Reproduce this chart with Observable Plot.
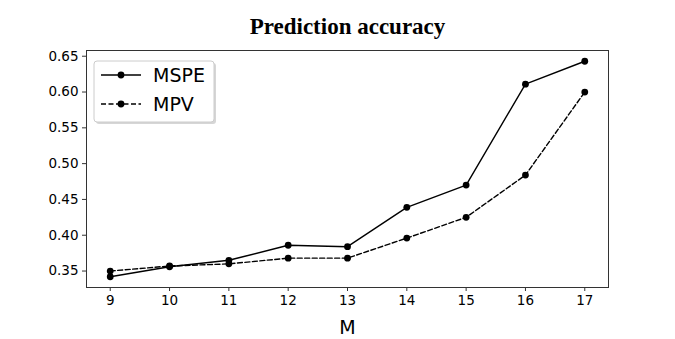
<!DOCTYPE html>
<html><head><meta charset="utf-8">
<script src="https://cdn.jsdelivr.net/npm/d3@7"></script>
<script src="https://cdn.jsdelivr.net/npm/@observablehq/plot@0.6"></script>
<style>body{margin:0;background:#fff;} svg{display:block;}</style>
</head><body><div id="chart"></div>
<script>
const M = [9, 10, 11, 12, 13, 14, 15, 16, 17];
const mspe = [0.342, 0.356, 0.365, 0.386, 0.384, 0.439, 0.470, 0.611, 0.643];
const mpv = [0.350, 0.357, 0.360, 0.368, 0.368, 0.396, 0.425, 0.484, 0.600];
const yTicks = [0.35, 0.40, 0.45, 0.50, 0.55, 0.60, 0.65];
const seriesNames = ["MSPE", "MPV"];
const title = "Prediction accuracy";
const xLabel = "M";

const dMSPE = M.map((m, i) => ({M: m, v: mspe[i]}));
const dMPV = M.map((m, i) => ({M: m, v: mpv[i]}));
const font = "DejaVu Sans, sans-serif";

const plot = Plot.plot({
  width: 675, height: 339,
  marginLeft: 86, marginRight: 67, marginTop: 50, marginBottom: 52,
  style: {fontFamily: font, background: "#fff"},
  x: {domain: [8.6, 17.4]},
  y: {domain: [0.327, 0.658]},
  marks: [
    Plot.axisX({ticks: M, tickFormat: d => String(d), tickSize: 4, tickPadding: 4, fontSize: 13.5, label: null, stroke: "#333"}),
    Plot.axisY({ticks: yTicks, tickFormat: d3.format(".2f"), tickSize: 4, tickPadding: 4, fontSize: 13.5, label: null, stroke: "#333"}),
    Plot.line(dMSPE, {x: "M", y: "v", stroke: "#000", strokeWidth: 1.4}),
    Plot.dot(dMSPE, {x: "M", y: "v", r: 3.4, fill: "#000"}),
    Plot.line(dMPV, {x: "M", y: "v", stroke: "#000", strokeWidth: 1.4, strokeDasharray: "5,2.5"}),
    Plot.dot(dMPV, {x: "M", y: "v", r: 3.4, fill: "#000"}),
    Plot.frame({stroke: "#333", strokeWidth: 1}),
    Plot.text([xLabel], {text: d => d, frameAnchor: "bottom", dy: 46, fontSize: 19, fill: "#000"}),
    Plot.text([title], {text: d => d, frameAnchor: "top", dy: -33, fontSize: 23, fontWeight: "bold", fontFamily: "Liberation Serif, Times New Roman, serif", fill: "#000"})
  ]
});
document.getElementById("chart").appendChild(plot);

// legend
const svg = d3.select(plot);
const g = svg.append("g").attr("transform", "translate(94,61)");
g.append("rect").attr("x", 2).attr("y", 2).attr("width", 120).attr("height", 61).attr("rx", 3).attr("fill", "#bbb").attr("opacity", 0.6);
g.append("rect").attr("x", 0).attr("y", 0).attr("width", 120).attr("height", 61).attr("rx", 3).attr("fill", "#fff").attr("stroke", "#ccc");
seriesNames.forEach((name, i) => {
  const y = 14 + i * 29;
  g.append("line").attr("x1", 7).attr("x2", 47).attr("y1", y).attr("y2", y).attr("stroke", "#000").attr("stroke-width", 1.4).attr("stroke-dasharray", i ? "5,2.5" : null);
  g.append("circle").attr("cx", 27).attr("cy", y).attr("r", 3.4).attr("fill", "#000");
  g.append("text").attr("x", 59).attr("y", y).attr("dy", "0.35em").attr("text-anchor", "start").attr("font-size", 19).attr("font-family", font).attr("fill", "#000").text(name);
});
</script></body></html>
